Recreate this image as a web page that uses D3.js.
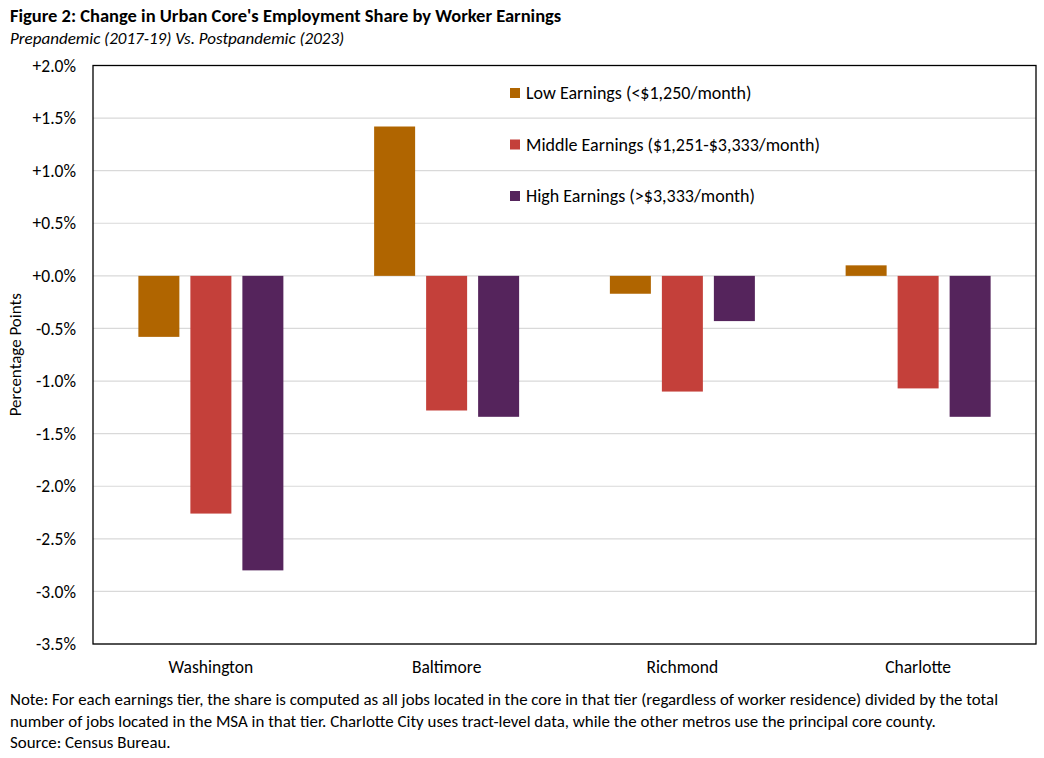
<!DOCTYPE html>
<html>
<head>
<meta charset="UTF-8" />
<script src="https://cdn.jsdelivr.net/npm/d3@7"></script>
<style>
  body { margin: 0; background: #fff; }
  svg text { font-family: Carlito, Calibri, Lato, sans-serif; fill: #000; }
</style>
</head>
<body>
<div id="chart"></div>
<script>
const cities = ["Washington", "Baltimore", "Richmond", "Charlotte"];
const series = ["Low Earnings (<$1,250/month)", "Middle Earnings ($1,251-$3,333/month)", "High Earnings (>$3,333/month)"];
const lowValues = [-0.58, 1.42, -0.17, 0.10];
const middleValues = [-2.26, -1.28, -1.10, -1.07];
const highValues = [-2.80, -1.34, -0.43, -1.34];
const yTicks = [2.0, 1.5, 1.0, 0.5, 0.0, -0.5, -1.0, -1.5, -2.0, -2.5, -3.0, -3.5];
const colors = ["#b06500", "#c4403a", "#55245c"];
const noteLines = [
  "Note: For each earnings tier, the share is computed as all jobs located in the core in that tier (regardless of worker residence) divided by the total",
  "number of jobs located in the MSA in that tier. Charlotte City uses tract-level data, while the other metros use the principal core county.",
  "Source: Census Bureau."
];

const w = 1044, h = 758;
const plotL = 93, plotR = 1036, plotT = 65.5, plotB = 644;

const svg = d3.select("#chart").append("svg").attr("width", w).attr("height", h);

const x0 = d3.scaleBand().domain(cities).range([plotL, plotR]);
const x1 = d3.scaleBand().domain(series).range([-72.5, 72.5]).paddingInner(11 / 52);
const y = d3.scaleLinear().domain([-3.5, 2.0]).range([plotB, plotT]);

// gridlines
svg.append("g").selectAll("line").data(yTicks).enter().append("line")
  .attr("x1", plotL).attr("x2", plotR)
  .attr("y1", d => y(d)).attr("y2", d => y(d))
  .attr("stroke", "#d9d9d9").attr("stroke-width", 1.2);

// bars
const table = cities.map((c, i) => ({ city: c, vals: [lowValues[i], middleValues[i], highValues[i]] }));
const groups = svg.append("g").selectAll("g").data(table).enter().append("g")
  .attr("transform", d => "translate(" + (x0(d.city) + x0.bandwidth() / 2) + ",0)");
groups.selectAll("rect").data(d => d.vals.map((v, j) => ({ v: v, s: series[j], j: j }))).enter()
  .append("rect")
  .attr("x", d => x1(d.s))
  .attr("width", x1.bandwidth())
  .attr("y", d => y(Math.max(0, d.v)))
  .attr("height", d => Math.abs(y(d.v) - y(0)))
  .attr("fill", d => colors[d.j]);

// plot frame
svg.append("rect").attr("x", plotL).attr("y", plotT).attr("width", plotR - plotL).attr("height", plotB - plotT)
  .attr("fill", "none").attr("stroke", "#000").attr("stroke-width", 1.3);

// y axis
const yAxis = d3.axisLeft(y).tickValues(yTicks).tickSize(0).tickPadding(17)
  .tickFormat(d => (d >= 0 ? "+" : "-") + d3.format(".1f")(Math.abs(d)) + "%");
const ya = svg.append("g").attr("transform", "translate(" + plotL + ",0)").call(yAxis);
ya.select(".domain").remove();
ya.selectAll("text").style("font-size", "17.5px").attr("fill", "#000");

svg.append("text").attr("transform", "translate(21," + ((plotT + plotB) / 2) + ") rotate(-90)")
  .attr("text-anchor", "middle").style("font-size", "17px").text("Percentage Points");

// x axis
const xAxis = d3.axisBottom(x0).tickSize(0).tickPadding(17);
const xa = svg.append("g").attr("transform", "translate(0," + plotB + ")").call(xAxis);
xa.select(".domain").remove();
xa.selectAll("text").style("font-size", "17.5px").attr("fill", "#000");

// legend
const legend = svg.append("g").selectAll("g").data(series).enter().append("g")
  .attr("transform", (d, i) => "translate(510," + (93 + i * 51.5) + ")");
legend.append("rect").attr("x", 0).attr("y", -5).attr("width", 10).attr("height", 10)
  .attr("fill", (d, i) => colors[i]);
legend.append("text").attr("x", 16).attr("dy", "0.35em").style("font-size", "18px").text(d => d);

// titles
svg.append("text").attr("x", 10).attr("y", 22).style("font-size", "18.5px").style("font-weight", "bold")
  .text("Figure 2: Change in Urban Core's Employment Share by Worker Earnings");
svg.append("text").attr("x", 10).attr("y", 44).style("font-size", "17px").style("font-style", "italic")
  .text("Prepandemic (2017-19) Vs. Postpandemic (2023)");

// note
svg.append("g").selectAll("text").data(noteLines).enter().append("text")
  .attr("x", 10).attr("y", (d, i) => 705 + i * 21.5)
  .style("font-size", "16.9px").text(d => d);
</script>
</body>
</html>
